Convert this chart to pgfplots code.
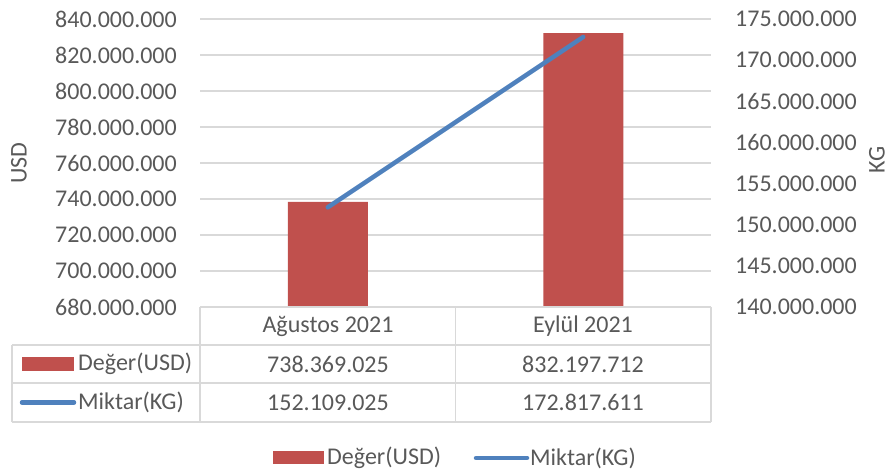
\documentclass[border=0pt]{standalone}
\usepackage{pgfplots}
\pgfplotsset{compat=1.18}
\usepackage{fontspec}
\setmainfont{Carlito}
\definecolor{barred}{HTML}{C0504D}
\definecolor{lineblue}{HTML}{4F81BD}
\definecolor{txt}{HTML}{595959}
\definecolor{gridc}{HTML}{D9D9D9}

\begin{document}
\begin{tikzpicture}[x=1pt,y=1pt,
    lab/.style={text=txt, inner sep=0pt, font=\fontsize{24}{28}\selectfont}]
\path[use as bounding box] (0,0) rectangle (891,470);

% left axis: value in USD (bars)
\begin{axis}[
    at={(200pt,163pt)}, anchor=south west,
    scale only axis, width=511pt, height=288pt,
    xmin=-0.5, xmax=1.5, xtick=\empty,
    ymin=680000000, ymax=840000000,
    scaled y ticks=false,
    ytick={680000000,700000000,720000000,740000000,760000000,780000000,800000000,820000000,840000000},
    yticklabels={680.000.000,700.000.000,720.000.000,740.000.000,760.000.000,780.000.000,800.000.000,820.000.000,840.000.000},
    ymajorgrids, grid style={gridc, line width=1.5pt},
    axis line style={draw=none}, major tick length=0pt,
    yticklabel style={lab, anchor=east, xshift=-23pt},
    ybar, bar width=80pt,
  ]
  \addplot[fill=barred, draw=none] coordinates {(0,738369025) (1,832197712)};
\end{axis}

% right axis: quantity in KG (line)
\begin{axis}[
    at={(200pt,163pt)}, anchor=south west,
    scale only axis, width=511pt, height=288pt,
    xmin=-0.5, xmax=1.5, axis x line=none,
    axis y line*=right,
    ymin=140000000, ymax=175000000,
    scaled y ticks=false,
    ytick={140000000,145000000,150000000,155000000,160000000,165000000,170000000,175000000},
    yticklabels={140.000.000,145.000.000,150.000.000,155.000.000,160.000.000,165.000.000,170.000.000,175.000.000},
    axis line style={draw=none}, major tick length=0pt,
    yticklabel style={lab, anchor=west, xshift=24pt},
  ]
  \addplot[lineblue, line width=4.5pt, line cap=round] coordinates {(0,152109025) (1,172817611)};
\end{axis}

% axis titles
\node[lab, rotate=90] at (19,307) {USD};
\node[lab, rotate=90] at (877,310) {KG};

% data table
\begin{scope}[gridc, line width=1.5pt]
  \draw (200,163) -- (711,163);
  \draw (12,125) -- (711,125);
  \draw (12,87) -- (711,87);
  \draw (12,48) -- (711,48);
  \draw (12,125) -- (12,48);
  \draw (200,163) -- (200,48);
  \draw (455.5,163) -- (455.5,48);
  \draw (711,163) -- (711,48);
\end{scope}
\node[lab] at (328,144) {Ağustos 2021};
\node[lab] at (583,144) {Eylül 2021};
\node[lab] at (328,106) {738.369.025};
\node[lab] at (583,106) {832.197.712};
\node[lab] at (328,67.5) {152.109.025};
\node[lab] at (583,67.5) {172.817.611};
\fill[barred] (22,99) rectangle (74,113);
\node[lab, anchor=west] at (78,106) {Değer(USD)};
\draw[lineblue, line width=4.5pt, line cap=round] (22,67.5) -- (74,67.5);
\node[lab, anchor=west] at (78,67.5) {Miktar(KG)};

% legend
\fill[barred] (273,5.5) rectangle (324,18.5);
\node[lab, anchor=west] at (327,12) {Değer(USD)};
\draw[lineblue, line width=4.5pt, line cap=round] (476,12) -- (527,12);
\node[lab, anchor=west] at (530,12) {Miktar(KG)};
\end{tikzpicture}
\end{document}
